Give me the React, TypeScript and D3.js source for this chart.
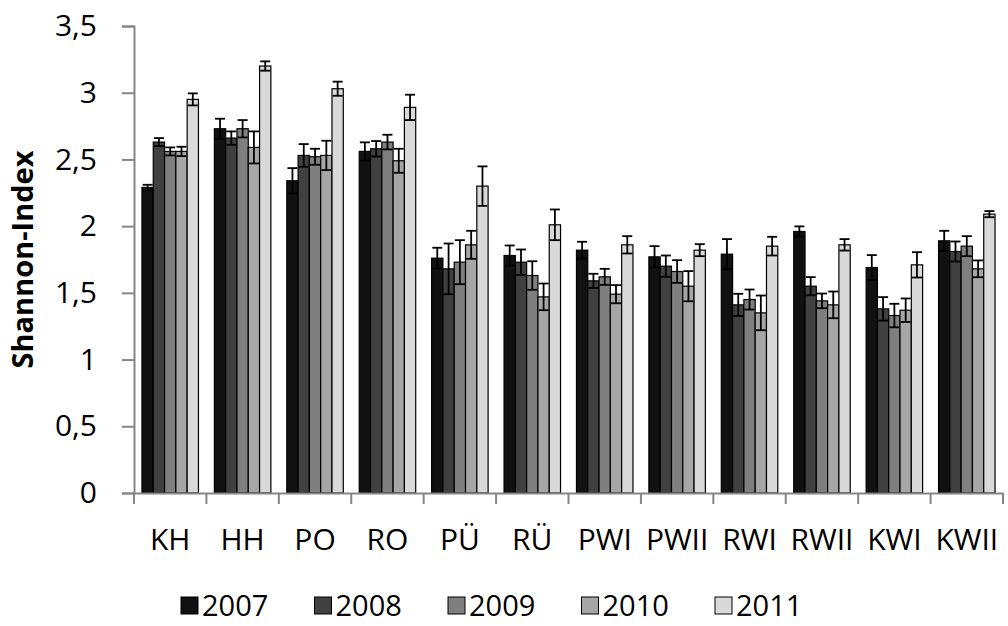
import React, { useRef, useEffect } from "react";
import * as d3 from "d3";

const width = 1008;
const height = 626;
const margin = { left: 134, right: 5, top: 26, bottom: 133 };

const categories = ["KH", "HH", "PO", "RO", "PÜ", "RÜ", "PWI", "PWII", "RWI", "RWII", "KWI", "KWII"];
const years = ["2007", "2008", "2009", "2010", "2011"];
const colors = ["#111111", "#404040", "#7f7f7f", "#a6a6a6", "#d9d9d9"];

const v2007 = [2.29, 2.73, 2.34, 2.56, 1.76, 1.78, 1.82, 1.77, 1.79, 1.96, 1.69, 1.89];
const v2008 = [2.63, 2.66, 2.53, 2.58, 1.68, 1.73, 1.59, 1.70, 1.41, 1.55, 1.38, 1.81];
const v2009 = [2.56, 2.73, 2.52, 2.63, 1.73, 1.63, 1.62, 1.66, 1.45, 1.44, 1.33, 1.85];
const v2010 = [2.56, 2.59, 2.53, 2.49, 1.86, 1.47, 1.49, 1.55, 1.35, 1.41, 1.37, 1.68];
const v2011 = [2.95, 3.20, 3.03, 2.89, 2.30, 2.01, 1.86, 1.82, 1.85, 1.86, 1.71, 2.09];

const e2007 = [0.02, 0.075, 0.095, 0.068, 0.078, 0.075, 0.063, 0.08, 0.113, 0.038, 0.093, 0.075];
const e2008 = [0.03, 0.05, 0.085, 0.058, 0.19, 0.095, 0.053, 0.08, 0.083, 0.068, 0.088, 0.075];
const e2009 = [0.03, 0.065, 0.06, 0.055, 0.165, 0.107, 0.06, 0.085, 0.075, 0.055, 0.088, 0.075];
const e2010 = [0.035, 0.12, 0.11, 0.09, 0.105, 0.1, 0.068, 0.113, 0.13, 0.1, 0.088, 0.063];
const e2011 = [0.045, 0.035, 0.053, 0.095, 0.148, 0.115, 0.065, 0.045, 0.07, 0.043, 0.095, 0.023];

const values = [v2007, v2008, v2009, v2010, v2011];
const errors = [e2007, e2008, e2009, e2010, e2011];
const yTicks = [0, 0.5, 1, 1.5, 2, 2.5, 3, 3.5];

const font = "Open Sans, Calibri, sans-serif";
const axisGrey = "#868686";

const App = () => {
  const ref = useRef<SVGSVGElement>(null);

  useEffect(() => {
    const svg = d3.select(ref.current);
    svg.selectAll("*").remove();

    const x0 = d3.scaleBand()
      .domain(categories)
      .range([margin.left, width - margin.right])
      .paddingInner(0.22)
      .paddingOuter(0.11);
    const x1 = d3.scaleBand().domain(years).range([0, x0.bandwidth()]);
    const y = d3.scaleLinear().domain([0, 3.5]).range([height - margin.bottom, margin.top]);

    const data = categories.flatMap((c, i) =>
      years.map((yr, j) => ({ cat: c, year: yr, j, value: values[j][i], err: errors[j][i] }))
    );

    // bars
    svg.append("g")
      .selectAll("rect")
      .data(data)
      .join("rect")
      .attr("x", d => x0(d.cat)! + x1(d.year)!)
      .attr("y", d => y(d.value))
      .attr("width", x1.bandwidth())
      .attr("height", d => y(0) - y(d.value))
      .attr("fill", d => colors[d.j])
      .attr("stroke", "#000")
      .attr("stroke-width", 1.2);

    // error bars
    const eg = svg.append("g").attr("stroke", "#000").attr("stroke-width", 1.8);
    data.forEach(d => {
      const cx = x0(d.cat)! + x1(d.year)! + x1.bandwidth() / 2;
      const hi = y(d.value + d.err);
      const lo = y(d.value - d.err);
      eg.append("line").attr("x1", cx).attr("x2", cx).attr("y1", hi).attr("y2", lo);
      eg.append("line").attr("x1", cx - 5).attr("x2", cx + 5).attr("y1", hi).attr("y2", hi);
      eg.append("line").attr("x1", cx - 5).attr("x2", cx + 5).attr("y1", lo).attr("y2", lo);
    });

    // y axis
    const yAxis = d3.axisLeft(y).tickValues(yTicks).tickSize(12).tickPadding(25)
      .tickFormat(d => String(d).replace(".", ","));
    svg.append("g")
      .attr("transform", `translate(${margin.left},0)`)
      .call(yAxis)
      .call(g => g.select(".domain").attr("stroke", axisGrey).attr("stroke-width", 2))
      .call(g => g.selectAll(".tick line").attr("stroke", axisGrey).attr("stroke-width", 2))
      .call(g => g.selectAll("text").attr("font-family", font).attr("font-size", 30).attr("fill", "#000"));

    // x axis
    const xAxis = d3.axisBottom(x0).tickSize(0).tickPadding(36);
    const bottom = height - margin.bottom;
    svg.append("g")
      .attr("transform", `translate(0,${bottom})`)
      .call(xAxis)
      .call(g => g.select(".domain").attr("stroke", axisGrey).attr("stroke-width", 2))
      .call(g => g.selectAll("text").attr("font-family", font).attr("font-size", 30).attr("fill", "#000"));

    const step = x0.step();
    const bounds = d3.range(categories.length + 1).map(i => margin.left + i * step);
    svg.append("g")
      .selectAll("line")
      .data(bounds)
      .join("line")
      .attr("x1", d => d)
      .attr("x2", d => d)
      .attr("y1", bottom)
      .attr("y2", bottom + 11)
      .attr("stroke", axisGrey)
      .attr("stroke-width", 2);

    // y label
    svg.append("text")
      .attr("transform", `translate(22.5,${(margin.top + bottom) / 2}) rotate(-90)`)
      .attr("text-anchor", "middle")
      .attr("dy", "0.36em")
      .attr("font-family", font)
      .attr("font-weight", "bold")
      .attr("font-size", 29)
      .text("Shannon-Index");

    // legend
    const legend = svg.append("g").attr("transform", "translate(181,605.5)");
    years.forEach((yr, j) => {
      const item = legend.append("g").attr("transform", `translate(${j * 133.5},0)`);
      item.append("rect")
        .attr("x", 0).attr("y", -8.5).attr("width", 17).attr("height", 17)
        .attr("fill", colors[j]).attr("stroke", "#000").attr("stroke-width", 1);
      item.append("text")
        .attr("x", 21).attr("y", 0).attr("dy", "0.36em")
        .attr("font-family", font).attr("font-size", 29)
        .text(yr);
    });
  }, []);

  return (
    <svg ref={ref} width={width} height={height} style={{ display: "block", position: "absolute", left: 0, top: 0 }} />
  );
};

export default App;
